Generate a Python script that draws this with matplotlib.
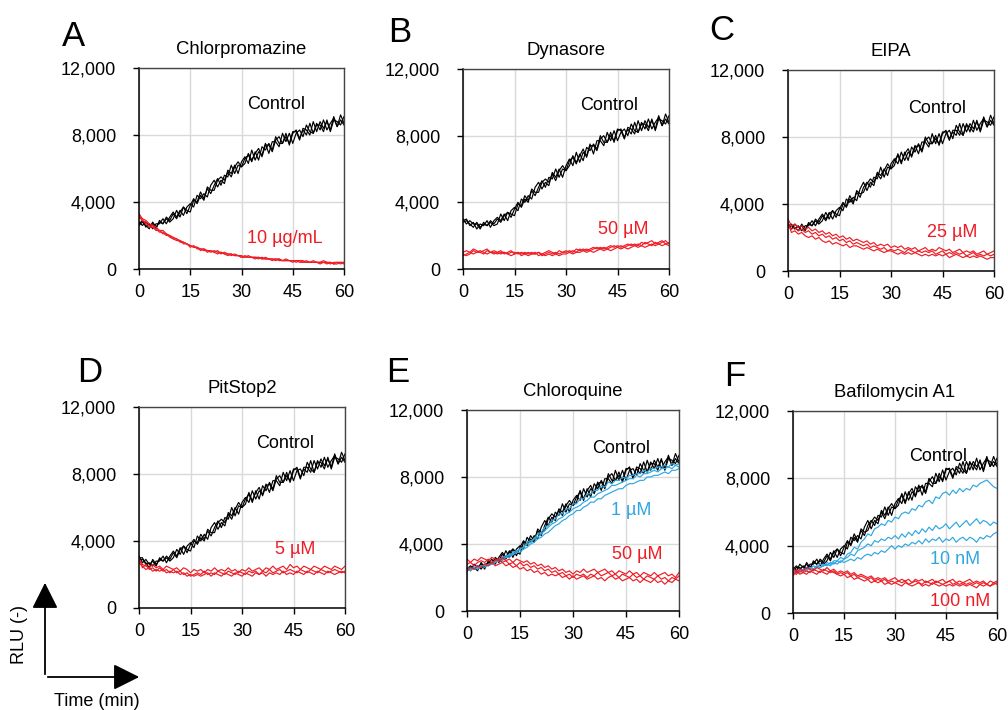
import numpy as np
import matplotlib
matplotlib.use("Agg")
import matplotlib.pyplot as plt
from matplotlib.patches import FancyArrowPatch

plt.rcParams['font.family'] = ['Liberation Sans', 'DejaVu Sans']

# ---------------- data (RLU in hundreds, one value per minute) ----------------
time_min = list(range(0, 61))
x_ticks = [0, 15, 30, 45, 60]
y_ticks = [0, 4000, 8000, 12000]
y_tick_labels = ["0", "4,000", "8,000", "12,000"]

BLACK = "#000000"
RED = "#ee1c25"
BLUE = "#2ea7e0"

# A: Chlorpromazine
A_ctrl = [
    [27,29,25,27,24,27,27,30,27,31,34,31,35,32,37,39,37,44,42,45,43,50,53,49,53,51,59,57,62,57,64,67,63,71,65,70,68,75,69,76,76,73,81,76,81,75,81,83,79,86,82,81,87,83,89,83,87,90,85,92,87],
    [28,26,28,26,27,24,29,27,30,28,30,35,31,37,35,34,41,40,46,42,48,45,50,54,50,56,55,62,57,62,61,66,68,64,70,65,73,71,75,71,79,75,75,81,74,81,83,78,83,80,87,81,86,86,82,89,82,89,88,86,91],
    [26,28,26,24,28,25,28,27,31,29,33,30,34,37,33,38,42,39,44,41,49,47,47,53,55,53,58,55,61,64,61,63,69,65,69,72,67,74,74,70,77,79,75,79,75,82,82,77,84,83,80,88,82,88,84,88,83,91,85,89,86],
]
A_trt = [
    [33,30,29,27,26,25,23,23,21,20,19,18,17,16,15,14,13,13,12,12,11,11,10,11,9,10,9,9,8,8,8,7,8,7,7,7,6,7,6,6,6,6,5,6,5,5,5,5,4,5,4,5,4,4,5,4,4,3,4,4,4],
    [32,29,27,26,25,23,23,21,21,19,18,18,16,16,15,13,14,12,12,11,11,10,11,10,10,9,9,8,9,8,7,8,7,7,7,6,7,6,6,6,5,6,5,5,5,5,4,5,5,4,4,4,4,4,4,4,3,4,4,3,4],
    [31,29,28,25,25,24,22,22,20,20,18,17,17,15,15,14,13,13,11,12,10,11,10,9,10,9,8,9,8,8,7,7,7,7,6,7,6,6,6,5,6,5,5,5,5,4,5,4,4,4,4,4,4,3,4,3,4,3,3,4,3],
]
# B: Dynasore
B_ctrl = [
    [28,29,27,25,28,25,27,26,29,27,30,28,32,34,31,36,40,37,42,40,48,46,46,52,54,52,57,53,59,62,59,62,68,64,68,72,67,74,74,71,78,80,76,80,77,84,83,78,85,84,81,89,83,89,85,89,84,92,86,90,87],
    [29,30,26,28,24,27,26,29,25,29,31,29,33,29,35,37,35,42,40,44,42,49,52,48,52,50,58,55,60,55,62,66,62,70,64,70,68,75,69,77,77,74,82,77,83,77,82,84,80,87,83,82,88,84,90,84,88,91,86,93,88],
    [30,27,29,27,27,24,28,26,28,26,27,33,29,34,33,32,39,38,44,41,47,44,49,53,49,55,54,60,55,60,59,65,67,63,69,65,73,71,75,72,80,76,76,82,76,83,84,79,84,81,88,82,87,87,83,90,83,90,89,87,92],
]
B_trt = [
    [10,11,10,12,11,10,11,12,10,11,10,11,9,10,11,9,10,9,10,9,10,9,10,9,10,11,10,9,11,10,10,11,10,12,11,12,11,12,13,12,13,12,13,14,13,14,13,14,15,14,15,14,16,15,16,17,15,16,17,15,16],
    [8,9,10,9,10,11,10,9,10,9,10,9,10,9,8,9,10,8,9,8,9,10,8,9,8,9,8,9,8,9,9,10,9,10,10,11,10,11,10,11,12,11,12,11,12,13,12,13,12,13,14,13,14,13,14,15,14,15,14,15,14],
    [9,8,9,11,10,10,9,11,10,10,9,10,10,9,10,10,9,10,9,10,9,9,10,8,9,10,9,10,9,10,11,10,11,10,12,11,12,11,12,13,12,13,12,13,14,13,14,13,14,15,14,15,14,16,15,14,16,15,16,17,15],
]
# C: EIPA
C_ctrl = [
    [28,25,28,26,27,24,29,27,30,28,30,35,31,36,34,33,40,39,45,41,47,44,50,53,50,56,55,62,56,62,61,66,69,64,71,66,74,71,76,72,80,76,76,81,75,82,84,79,83,81,88,81,87,86,83,90,83,90,89,87,92],
    [26,27,26,24,28,25,28,27,31,29,33,30,34,36,32,37,41,38,43,40,48,46,47,52,55,53,58,55,60,64,61,63,70,65,70,73,68,74,75,71,78,80,76,79,76,83,83,78,84,84,81,88,83,88,85,89,84,92,86,90,87],
    [27,28,25,27,24,27,27,30,27,31,34,31,35,31,36,38,36,43,41,44,42,49,53,48,53,51,59,57,61,57,64,67,64,71,66,71,69,75,70,77,77,74,82,76,82,76,82,84,79,87,83,81,88,83,90,84,88,91,86,93,88],
]
C_trt = [
    [31,27,28,26,27,25,26,24,25,23,24,22,23,21,22,20,21,19,20,18,19,18,17,18,16,17,15,16,15,16,14,15,14,15,13,14,13,14,12,13,14,12,13,12,14,13,12,13,11,12,13,11,12,11,12,10,11,12,10,11,12],
    [27,25,26,24,25,23,24,22,23,21,22,20,21,19,20,18,19,17,18,16,17,16,15,16,14,15,14,13,14,12,13,12,13,12,11,13,12,11,12,11,12,11,12,10,11,12,10,11,10,11,10,11,9,10,11,9,10,9,10,9,10],
    [29,23,24,22,23,21,20,21,19,20,18,17,18,16,17,16,15,16,14,15,15,14,13,14,13,12,13,12,11,12,12,11,10,11,10,11,10,11,10,9,10,9,10,9,10,9,10,8,9,10,9,8,9,8,9,8,9,8,7,8,8],
]
# D: PitStop2
D_ctrl = [
    [30,30,26,27,25,28,28,31,27,31,34,31,36,32,37,39,36,43,40,44,41,48,51,47,51,49,57,55,60,56,63,66,63,70,65,70,68,74,69,76,76,73,81,76,82,76,82,83,79,87,83,81,88,84,90,84,88,91,86,93,88],
    [29,29,27,24,29,26,29,28,31,29,33,30,35,37,33,38,41,38,42,40,47,45,45,51,53,51,56,53,59,63,60,62,69,64,69,72,67,73,74,70,77,79,75,79,76,83,83,77,84,84,81,88,83,89,85,89,84,92,86,90,87],
    [31,27,29,26,28,25,30,28,30,28,30,35,32,37,35,34,40,39,44,41,46,43,48,52,48,54,53,60,55,61,60,65,68,63,70,65,73,70,75,71,79,75,75,81,75,82,84,78,83,81,88,81,87,87,83,90,83,90,89,87,92],
]
D_trt = [
    [29,26,25,24,26,24,25,23,25,24,23,24,22,24,23,21,23,22,23,21,23,22,24,22,23,22,24,22,23,21,23,22,24,22,23,24,22,24,23,25,23,24,25,23,26,24,25,23,25,24,23,25,24,23,25,24,23,25,24,23,25],
    [30,24,26,23,24,22,24,22,23,21,23,21,22,20,21,19,20,21,20,22,20,21,20,22,21,20,22,21,20,22,21,20,22,21,22,20,22,21,23,21,22,23,21,22,23,22,21,23,22,21,23,22,21,23,22,21,22,23,22,21,22],
    [27,25,23,24,22,23,22,23,21,22,21,22,20,21,19,20,19,20,19,20,21,19,21,20,19,21,20,19,21,20,19,21,20,19,21,20,21,19,21,20,21,20,22,20,21,20,22,21,20,22,21,20,22,21,20,22,21,20,21,22,21],
]
# E: Chloroquine
E_ctrl = [
    [24,26,26,24,29,26,29,28,32,30,34,31,35,37,33,38,42,39,43,41,49,47,48,55,58,56,60,57,63,66,63,65,72,67,72,75,70,76,77,73,80,82,78,81,78,85,85,79,86,85,82,90,84,90,86,90,85,93,87,91,88],
    [25,27,25,27,25,28,28,31,28,32,35,32,36,32,37,39,37,44,41,45,43,50,54,51,56,54,61,59,64,59,66,69,66,73,68,73,71,77,72,79,79,76,84,78,84,78,84,85,81,88,84,83,89,85,91,85,89,92,87,94,89],
    [26,24,28,26,28,25,30,28,31,29,31,36,32,37,35,34,41,40,45,42,48,45,51,56,53,59,57,64,59,64,63,68,71,66,73,68,76,73,78,74,82,78,78,83,77,84,86,80,85,82,89,83,88,88,84,91,84,91,90,88,93],
]
E_low = [
    [25,24,26,27,26,28,27,29,30,30,32,33,33,35,36,37,38,41,42,43,46,47,50,51,54,55,58,58,61,61,64,64,67,67,70,70,72,72,75,74,77,76,78,78,80,79,81,81,82,82,84,83,85,85,86,86,87,86,88,87,88],
    [24,25,25,26,27,26,28,28,29,31,31,32,34,34,35,37,38,40,41,43,44,46,48,50,52,53,55,56,58,59,61,62,63,65,66,68,68,70,71,72,73,75,75,76,77,78,79,79,81,80,82,82,83,84,83,85,85,86,85,87,86],
    [26,25,26,25,27,27,27,28,29,30,30,32,32,34,35,35,37,38,40,41,43,44,46,47,49,51,52,54,55,57,58,60,60,62,63,65,65,67,67,69,70,71,72,73,73,75,76,76,77,78,78,80,80,81,81,82,83,82,84,84,85],
]
E_high = [
    [31,29,31,30,32,31,30,32,31,30,32,30,31,29,31,30,29,30,28,29,27,28,26,27,25,26,24,25,23,24,22,24,23,25,23,24,25,23,24,25,23,24,22,24,23,22,24,22,23,21,23,22,21,23,21,22,23,21,22,20,23],
    [28,29,27,29,30,29,31,29,30,31,29,30,28,29,27,29,27,28,26,27,25,26,24,25,23,24,22,23,21,22,20,22,21,22,20,22,21,23,21,22,23,21,22,20,22,21,20,22,20,21,19,21,20,19,21,19,20,18,20,19,21],
    [24,26,25,27,26,28,27,29,27,28,29,27,28,26,27,25,26,24,25,23,24,22,23,21,22,21,22,20,21,19,21,19,20,21,19,20,21,19,20,18,20,21,19,20,18,19,20,18,19,17,19,18,17,19,17,18,16,18,17,19,18],
]
# F: Bafilomycin A1
F_ctrl = [
    [27,25,29,27,29,26,31,29,31,29,31,36,33,38,36,35,42,41,47,43,49,46,52,55,52,58,57,63,58,63,62,67,70,65,72,67,75,72,76,72,80,77,77,83,78,85,86,81,86,83,90,83,89,88,85,91,84,91,90,87,92],
    [25,27,27,25,30,27,30,29,32,30,34,31,36,38,34,39,43,40,45,42,50,48,49,54,57,55,60,56,62,65,62,64,71,66,71,74,69,75,75,71,78,81,77,81,79,86,85,80,87,86,83,90,85,90,87,90,85,93,87,90,87],
    [26,28,26,28,26,29,29,32,28,32,35,32,37,33,38,40,38,45,43,46,44,51,55,50,55,53,61,58,63,58,65,68,65,72,67,72,70,76,70,77,77,75,83,78,85,79,84,86,82,89,85,83,90,85,92,85,89,92,87,93,88],
]
F_low = [
    [25,24,26,25,27,26,28,27,29,28,30,29,31,31,33,32,35,36,39,38,42,44,47,46,50,51,53,52,55,54,57,56,59,60,59,62,61,64,63,66,67,65,69,68,71,72,70,73,71,74,72,74,73,76,75,77,78,79,77,75,74],
    [24,25,24,26,25,27,26,28,27,29,28,30,29,31,30,32,33,35,34,37,38,39,41,40,43,42,44,43,45,44,46,44,47,45,48,46,49,47,50,48,51,49,52,50,51,53,50,52,54,51,53,55,52,54,56,53,55,54,52,54,53],
    [25,24,26,25,26,27,26,28,27,28,29,28,30,29,31,30,31,32,31,33,32,34,35,34,36,35,37,36,38,40,38,40,39,41,40,42,41,43,41,44,42,44,43,45,42,44,43,45,42,44,45,43,45,44,42,45,44,46,45,47,48],
]
F_high = [
    [27,24,26,25,27,26,25,27,26,25,27,25,26,24,25,24,25,23,24,22,23,22,21,22,20,21,20,21,19,20,21,19,20,19,20,18,20,19,20,18,19,20,18,19,20,18,19,20,18,19,18,19,20,18,19,18,19,17,19,18,19],
    [24,23,25,24,25,24,26,25,24,26,25,24,25,23,24,23,24,22,23,21,22,21,20,21,19,20,19,20,18,19,18,19,18,19,17,18,19,18,17,19,18,17,19,18,17,18,19,17,18,17,18,17,18,17,18,17,18,17,16,18,17],
    [22,25,23,24,23,25,24,23,25,24,23,25,24,23,22,23,21,22,20,21,20,19,20,18,19,18,19,17,18,17,18,17,16,18,17,16,17,18,16,17,16,18,17,16,17,16,17,16,17,16,17,16,17,16,15,17,16,17,16,17,18],
]

panels = [
    # letter, title, series [(data, color)], labels [(text, t, y, color)], axes px (l, r, top, bottom), letter px
    ("A", "Chlorpromazine", [(A_ctrl, BLACK), (A_trt, RED)],
     [("Control", 40.1, 9800, BLACK), ("10 µg/mL", 42.7, 1850, RED)],
     (139, 344, 68, 269), (73, 36)),
    ("B", "Dynasore", [(B_ctrl, BLACK), (B_trt, RED)],
     [("Control", 42.5, 9800, BLACK), ("50 µM", 46.6, 2400, RED)],
     (463, 669, 69, 269), (400, 33)),
    ("C", "EIPA", [(C_ctrl, BLACK), (C_trt, RED)],
     [("Control", 43.4, 9700, BLACK), ("25 µM", 47.8, 2300, RED)],
     (788, 994, 70, 271), (722, 30)),
    ("D", "PitStop2", [(D_ctrl, BLACK), (D_trt, RED)],
     [("Control", 42.5, 9850, BLACK), ("5 µM", 45.4, 3500, RED)],
     (139, 345, 407, 608), (90, 372)),
    ("E", "Chloroquine", [(E_ctrl, BLACK), (E_low, BLUE), (E_high, RED)],
     [("Control", 43.6, 9700, BLACK), ("1 µM", 46.4, 6000, BLUE), ("50 µM", 48.1, 3400, RED)],
     (467, 679, 410, 611), (398, 372)),
    ("F", "Bafilomycin A1", [(F_ctrl, BLACK), (F_low, BLUE), (F_high, RED)],
     [("Control", 42.6, 9300, BLACK), ("10 nM", 47.6, 3200, BLUE), ("100 nM", 49.1, 700, RED)],
     (793, 997, 411, 613), (735, 377)),
]

W, H = 1008, 710
fig = plt.figure(figsize=(W / 100, H / 100), dpi=100)

t_all = np.array(time_min)
for letter, title, series, labels, (l, r, tp, bt), (lx, ly) in panels:
    ax = fig.add_axes([l / W, (H - bt) / H, (r - l) / W, (bt - tp) / H])
    for data, color in series:
        for rep in data:
            n = min(len(rep), len(t_all))
            ax.plot(t_all[:n], np.array(rep[:n]) * 100, color=color, lw=0.85)
    ax.set_xlim(0, 60)
    ax.set_ylim(0, 12000)
    ax.set_xticks(x_ticks)
    ax.set_yticks(y_ticks)
    ax.set_yticklabels(y_tick_labels)
    ax.grid(True, color="#d9d9d9", lw=1)
    ax.set_axisbelow(True)
    ax.tick_params(axis="both", direction="out", length=4.5, width=1, labelsize=13)
    ax.tick_params(axis="y", pad=12)
    ax.tick_params(axis="x", pad=6)
    for side in ["left", "bottom"]:
        ax.spines[side].set_color("black")
        ax.spines[side].set_linewidth(1.1)
    for side in ["top", "right"]:
        ax.spines[side].set_color("#444444")
        ax.spines[side].set_linewidth(1.0)
    ax.set_title(title, fontsize=13.3, pad=10)
    for text, tx, ty, color in labels:
        ax.text(tx, ty, text, color=color, fontsize=13, ha="center", va="center")
    fig.text(lx / W, (H - ly) / H, letter, fontsize=25, ha="center", va="center")

# axis-direction arrows (bottom-left)
ox, oy = 45, H - 677
fig.add_artist(FancyArrowPatch(
    (ox / W, oy / H), (ox / W, (H - 580) / H), transform=fig.transFigure,
    arrowstyle="-|>,head_length=10,head_width=5", mutation_scale=1.6, color="black", lw=1.3))
fig.add_artist(FancyArrowPatch(
    (ox / W, oy / H), (142 / W, oy / H), transform=fig.transFigure,
    arrowstyle="-|>,head_length=10,head_width=5", mutation_scale=1.6, color="black", lw=1.3))
fig.text(20 / W, (H - 635) / H, "RLU (-)", rotation=90, fontsize=13, ha="center", va="center")
fig.text(97 / W, (H - 702) / H, "Time (min)", fontsize=13, ha="center", va="center")

fig.savefig("out.png", dpi=100, facecolor="white")
